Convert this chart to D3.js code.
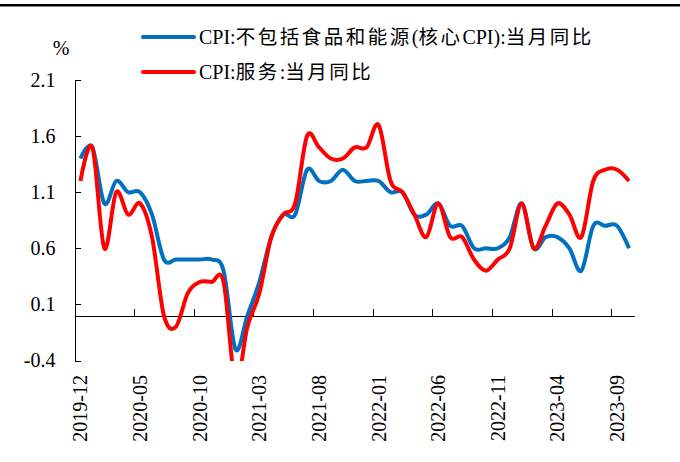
<html>
<head>
<meta charset="utf-8">
<script src="https://cdn.jsdelivr.net/npm/d3@7/dist/d3.min.js"></script>
<style>
    body { margin: 0; background: #fff; }
    text { font-family: "Liberation Serif", "Times New Roman", "Noto Sans CJK SC", serif; fill: #000; }
    .axis path, .axis line { stroke: #000; stroke-width: 1px; shape-rendering: crispEdges; }
    path.core { fill: none; stroke: #0070C0; stroke-width: 4px; stroke-linejoin: round; }
    path.service { fill: none; stroke: #FF0000; stroke-width: 4px; stroke-linejoin: round; }
</style>
</head>
<body>
<script>

    // months 2019-12 .. 2023-10
    var months = [
        "2019-12",
        "2020-01", "2020-02", "2020-03", "2020-04", "2020-05", "2020-06",
        "2020-07", "2020-08", "2020-09", "2020-10", "2020-11", "2020-12",
        "2021-01", "2021-02", "2021-03", "2021-04", "2021-05", "2021-06",
        "2021-07", "2021-08", "2021-09", "2021-10", "2021-11", "2021-12",
        "2022-01", "2022-02", "2022-03", "2022-04", "2022-05", "2022-06",
        "2022-07", "2022-08", "2022-09", "2022-10", "2022-11", "2022-12",
        "2023-01", "2023-02", "2023-03", "2023-04", "2023-05", "2023-06",
        "2023-07", "2023-08", "2023-09", "2023-10"
    ];

    // CPI excl. food & energy (core), yoy %
    var coreCPI = [
        1.4,
        1.5, 1.0, 1.2, 1.1, 1.1, 0.9,
        0.5, 0.5, 0.5, 0.5, 0.5, 0.4,
        -0.3, 0.0, 0.3, 0.7, 0.9, 0.9,
        1.3, 1.2, 1.2, 1.3, 1.2, 1.2,
        1.2, 1.1, 1.1, 0.9, 0.9, 1.0,
        0.8, 0.8, 0.6, 0.6, 0.6, 0.7,
        1.0, 0.6, 0.7, 0.7, 0.6, 0.4,
        0.8, 0.8, 0.8, 0.6
    ];

    // CPI services, yoy %
    var serviceCPI = [
        1.2,
        1.5, 0.6, 1.1, 0.9, 1.0, 0.7,
        0.0, -0.1, 0.2, 0.3, 0.3, 0.3,
        -0.6, -0.1, 0.2, 0.7, 0.9, 1.0,
        1.6, 1.5, 1.4, 1.4, 1.5, 1.5,
        1.7, 1.2, 1.1, 0.9, 0.7, 1.0,
        0.7, 0.7, 0.5, 0.4, 0.5, 0.6,
        1.0, 0.6, 0.8, 1.0, 0.9, 0.7,
        1.2, 1.3, 1.3, 1.2
    ];

    var yTicks = [2.1, 1.6, 1.1, 0.6, 0.1, -0.4];
    var xTickLabels = ["2019-12", "2020-05", "2020-10", "2021-03", "2021-08",
        "2022-01", "2022-06", "2022-11", "2023-04", "2023-09"];

    var seriesNames = ["CPI:不包括食品和能源(核心CPI):当月同比", "CPI:服务:当月同比"];

    var width = 680,
        height = 462;

    var svg = d3.select("body").append("svg")
        .attr("width", width)
        .attr("height", height);

    // rule at the very top
    svg.append("rect")
        .attr("x", 0).attr("y", 4)
        .attr("width", width).attr("height", 2.5)
        .attr("fill", "#000");

    var x = d3.scaleBand()
        .domain(months)
        .range([74.5, 635]);

    var y = d3.scaleLinear()
        .domain([-0.4, 2.1])
        .range([360.5, 80]);

    var cx = function (m) { return x(m) + x.bandwidth() / 2; };

    // y axis
    svg.append("g")
        .attr("class", "axis")
        .attr("transform", "translate(74.5,0)")
        .call(d3.axisLeft(y)
            .tickValues(yTicks)
            .tickSizeInner(-6)
            .tickSizeOuter(0)
            .tickPadding(19)
            .tickFormat(function (d) { return d.toFixed(1); }))
        .call(function (g) {
            g.selectAll("text")
                .style("font-size", "20px")
                .attr("font-family", null);
        });

    // x axis along zero
    var y0 = Math.round(y(0)) + 0.5;
    var xAxis = svg.append("g").attr("class", "axis");

    xAxis.append("line")
        .attr("x1", 74.5).attr("x2", 635)
        .attr("y1", y0).attr("y2", y0);

    xAxis.selectAll("line.tick")
        .data(xTickLabels)
        .enter().append("line")
        .attr("class", "tick")
        .attr("x1", function (d) { return Math.round(x(d)) + 0.5; })
        .attr("x2", function (d) { return Math.round(x(d)) + 0.5; })
        .attr("y1", y0)
        .attr("y2", y0 - 8);

    svg.append("g").selectAll("text")
        .data(xTickLabels)
        .enter().append("text")
        .attr("transform", function (d) { return "translate(" + cx(d) + ",375) rotate(-90)"; })
        .attr("dy", "0.35em")
        .attr("text-anchor", "end")
        .style("font-size", "20px")
        .text(function (d) { return d; });

    // unit label
    svg.append("text")
        .attr("x", 61)
        .attr("y", 55)
        .attr("text-anchor", "middle")
        .style("font-size", "20px")
        .text("%");

    // lines
    svg.append("clipPath")
        .attr("id", "plot")
        .append("rect")
        .attr("x", 70).attr("y", 70)
        .attr("width", 580).attr("height", 291);

    var line = d3.line()
        .x(function (d, i) { return cx(months[i]); })
        .y(function (d) { return y(d); })
        .curve(d3.curveCardinal.tension(0));

    svg.append("path")
        .datum(coreCPI)
        .attr("class", "core")
        .attr("clip-path", "url(#plot)")
        .attr("d", line);

    svg.append("path")
        .datum(serviceCPI)
        .attr("class", "service")
        .attr("clip-path", "url(#plot)")
        .attr("d", line);

    // legend
    var legendColors = ["#0070C0", "#FF0000"];
    var legendY = [37, 72];

    var legend = svg.append("g").selectAll("g")
        .data(seriesNames)
        .enter().append("g");

    legend.append("line")
        .attr("x1", 143).attr("x2", 194)
        .attr("y1", function (d, i) { return legendY[i]; })
        .attr("y2", function (d, i) { return legendY[i]; })
        .attr("stroke", function (d, i) { return legendColors[i]; })
        .attr("stroke-width", 4)
        .attr("stroke-linecap", "round");

    // split names into latin / CJK runs so the CJK glyphs get wider spacing
    legend.append("text")
        .attr("x", 199)
        .attr("y", function (d, i) { return legendY[i] + 7; })
        .style("font-size", "20px")
        .each(function (d) {
            var t = d3.select(this);
            var runs = d.match(/[\u4e00-\u9fff]+|[^\u4e00-\u9fff]+/g);
            runs.forEach(function (r) {
                var cjk = /[\u4e00-\u9fff]/.test(r);
                t.append("tspan")
                    .style("letter-spacing", cjk ? "2.5px" : "0px")
                    .style("font-size", cjk ? "19.5px" : "20px")
                    .text(r);
            });
        });

</script>
</body>
</html>
